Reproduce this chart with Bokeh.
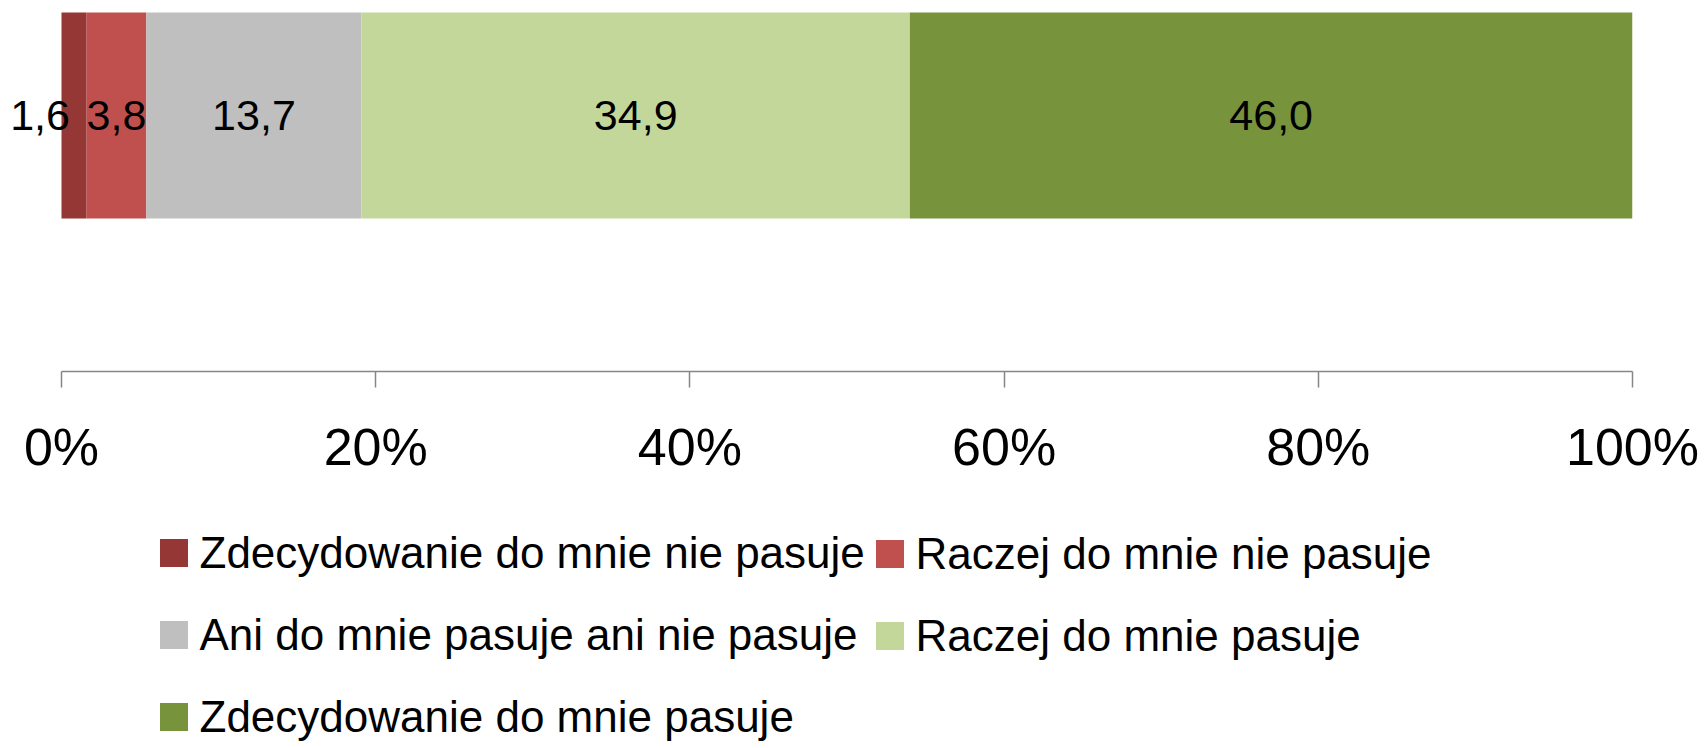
import numpy as np
from bokeh.plotting import figure
from bokeh.layouts import column
from bokeh.models import ColumnDataSource, Range1d, Legend, LegendItem, FixedTicker
from bokeh.core.properties import value
from bokeh.embed import file_html
from bokeh.resources import INLINE

# ---- data ----
categories = [
    "Zdecydowanie do mnie nie pasuje",
    "Raczej do mnie nie pasuje",
    "Ani do mnie pasuje ani nie pasuje",
    "Raczej do mnie pasuje",
    "Zdecydowanie do mnie pasuje",
]
values = [1.6, 3.8, 13.7, 34.9, 46.0]
colors = ["#953735", "#C0504D", "#BFBFBF", "#C4D79B", "#77933C"]
tick_values = [0, 20, 40, 60, 80, 100]
tick_labels = ["0%", "20%", "40%", "60%", "80%", "100%"]

right = np.cumsum(values)
left = right - np.array(values)
mid = (left + right) / 2
labels = [f"{v:.1f}".replace(".", ",") for v in values]
label_dx = [-34, 0, 0, 0, 0]

src = ColumnDataSource(dict(left=left, right=right, y=[0] * 5, color=colors,
                            cat=categories, mid=mid, lab=labels, dx=label_dx))

FONT = "Liberation Sans, Arial, sans-serif"
W = 1706
H1 = 490
H2 = 748 - H1

# ---- chart ----
p = figure(width=W, height=H1, output_backend="svg", toolbar_location=None,
           x_range=Range1d(-3.883, 100), y_range=Range1d(-1.243, 0.558),
           y_axis_location=None,
           min_border_left=0, min_border_right=74, min_border_top=0,
           min_border_bottom=H1 - 371)
p.outline_line_color = None
p.grid.visible = False

bars = p.hbar(y="y", left="left", right="right", height=1.0, fill_color="color",
              line_color=None, source=src)

p.text(x="mid", y="y", text="lab", x_offset="dx", source=src,
       text_align="center", text_baseline="middle",
       text_font=value(FONT), text_font_size="43px", text_color="black")

ax = p.xaxis[0]
ax.bounds = (0, 100)
ax.ticker = FixedTicker(ticks=tick_values)
ax.major_label_overrides = {t: l for t, l in zip(tick_values, tick_labels)}
ax.minor_tick_line_color = None
ax.major_tick_in = 0
ax.major_tick_out = 16
ax.axis_line_color = "#868686"
ax.major_tick_line_color = "#868686"
ax.axis_line_width = 1.5
ax.major_tick_line_width = 1.5
ax.major_label_text_font = FONT
ax.major_label_text_font_size = "52px"
ax.major_label_text_color = "black"
ax.major_label_standoff = 30

# ---- legend panel (the same bars, kept out of view; only the legend shows) ----
q = figure(width=W, height=H2, output_backend="svg", toolbar_location=None,
           x_axis_location=None, y_axis_location=None,
           x_range=Range1d(0, 100), y_range=Range1d(10, 11),
           min_border_left=0, min_border_right=0, min_border_top=0, min_border_bottom=0)
q.outline_line_color = None
q.grid.visible = False

swatch = q.hbar(y="y", left="left", right="right", height=1.0, fill_color="color",
                line_color=None, source=src)

def make_legend(idxs, loc):
    items = [LegendItem(label=categories[i], renderers=[swatch], index=i) for i in idxs]
    return Legend(items=items, location=loc, orientation="vertical",
                  glyph_width=35, glyph_height=35, label_height=35,
                  label_standoff=9, spacing=32, padding=0, margin=0,
                  border_line_color=None, background_fill_alpha=0,
                  label_text_font=FONT, label_text_font_size="44px",
                  label_text_color="black")

q.add_layout(make_legend([0, 2, 4], (155.5, 6.5)), "center")
q.add_layout(make_legend([1, 3], (871.5, 87.5)), "center")

open("out.html", "w").write(file_html(column(p, q), INLINE))
